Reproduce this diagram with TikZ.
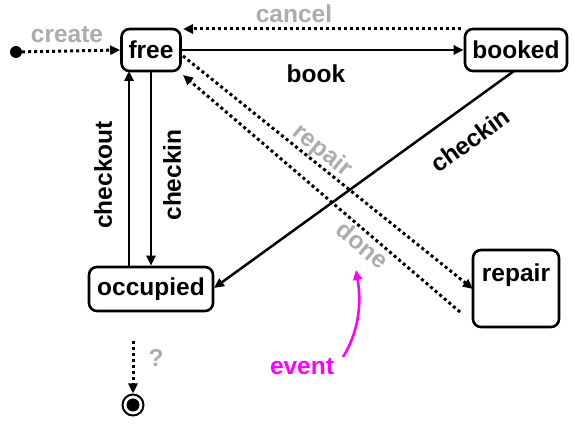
\documentclass[tikz,border=0pt]{standalone}
\usepackage{fontspec}
\setmainfont{Liberation Sans}
\usetikzlibrary{arrows.meta}
\definecolor{lblgray}{RGB}{172,172,172}
\definecolor{evmag}{RGB}{255,0,255}
\begin{document}
\begin{tikzpicture}[x=1pt,y=-1pt,
  every node/.style={font=\fontsize{24.5}{27}\selectfont\bfseries},
  state/.style={draw, line width=2.6pt, rounded corners=8pt, inner sep=0pt, fill=white},
  solidarr/.style={line width=2.5pt, -{Triangle[length=10pt,width=9pt]}},
  dotarr/.style={line width=3pt, dash pattern=on 3pt off 3pt, -{Triangle[length=10pt,width=9pt]}},
  glabel/.style={text=lblgray},
  blabel/.style={text=black}]
\useasboundingbox (0,0) rectangle (574,430);
% states
\node[state, minimum width=59pt, minimum height=42pt] (free) at (151,50) {free};
\node[state, minimum width=102pt, minimum height=42pt] (booked) at (516,50) {booked};
\node[state, minimum width=124pt, minimum height=44pt] (occupied) at (151,289) {occupied};
\node[state, minimum width=86pt, minimum height=77pt] (repair) at (516,288.5) {};
\node (repairtext) at (516,275) {repair};
% initial and final
\node[circle, fill=black, minimum size=12pt, inner sep=0pt] (initdot) at (16,52) {};
\node[circle, draw, line width=2pt, minimum size=21pt, inner sep=0pt] (final) at (133,405) {};
\fill (final.center) circle (6.5pt);
% create
\draw[dotarr] (initdot) -- (free.west);
\node[glabel] (createlbl) at (67,35) {create};
% cancel
\coordinate (cancelstart) at (461,29);
\coordinate (cancelend) at (183,29);
\draw[dotarr] (cancelstart) -- (cancelend);
\node[glabel] (cancellbl) at (294,14) {cancel};
% book
\draw[solidarr] (free.east) -- (booked.west);
\node[blabel] (booklbl) at (316,74) {book};
% checkin free->occupied
\draw[solidarr] (free.south) -- (occupied.north);
\node[blabel, rotate=90] (checkin1) at (172,175) {checkin};
% checkout occupied->free
\coordinate (coA) at (129,267);
\coordinate (coB) at (129,71);
\draw[solidarr] (coA) -- (coB);
\node[blabel, rotate=90] (checkoutlbl) at (103,175) {checkout};
% checkin booked->occupied
\coordinate (ciA) at (514,71);
\coordinate (ciB) at (214,288);
\draw[solidarr] (ciA) -- (ciB);
\node[blabel, rotate=35.8] (checkin2) at (470,140) {checkin};
% repair
\coordinate (rpA) at (183,56);
\coordinate (rpB) at (473,289);
\draw[dotarr] (rpA) -- (rpB);
\node[glabel, rotate=-39] (repairlbl) at (322,151) {repair};
% done
\coordinate (dnA) at (460,312);
\coordinate (dnB) at (183,75);
\draw[dotarr] (dnA) -- (dnB);
\node[glabel, rotate=-40] (donelbl) at (363,245) {done};
% event
\node[text=evmag] (eventlbl) at (302,367) {event};
\coordinate (evtip) at (356,270);
\draw[evmag, line width=2.6pt, -{Triangle[length=10pt,width=9pt]}] (343,357) .. controls (358,333) and (362,305) .. (evtip);
% final transition
\coordinate (fA) at (133,341);
\draw[dotarr] (fA) -- (final.north);
\node[glabel] (qlbl) at (156,358) {?};
\end{tikzpicture}
\end{document}
